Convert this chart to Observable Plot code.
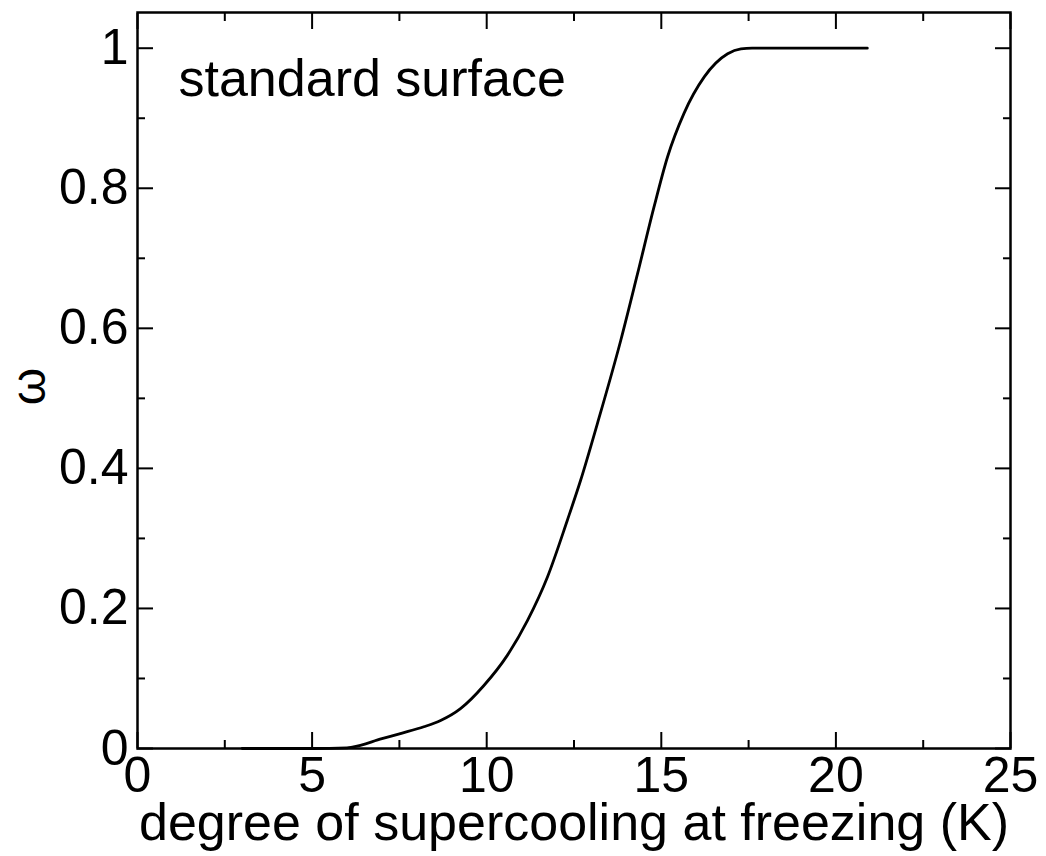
<!DOCTYPE html>
<html><head><meta charset="utf-8">
<script src="https://cdn.jsdelivr.net/npm/d3@7"></script>
<script src="https://cdn.jsdelivr.net/npm/@observablehq/plot@0.6"></script>
<style>body{margin:0;background:#fff;} svg{display:block}</style>
</head><body><div id="chart"></div>
<script>
// degree of supercooling at freezing (K)
const supercooling = [3, 5, 6, 6.15, 7, 7.58, 8.2, 8.68, 9.25, 9.92, 10.59, 11.17, 11.74, 12.31, 12.69, 13.17, 13.84, 14.32, 14.79, 15.18, 15.65, 16.23, 16.9, 17.28, 17.6, 18.5, 20.9];
// omega
const omega = [0, 0, 0.001, 0.002, 0.014, 0.022, 0.031, 0.04, 0.057, 0.09, 0.133, 0.183, 0.245, 0.326, 0.383, 0.464, 0.583, 0.678, 0.773, 0.845, 0.907, 0.959, 0.992, 0.999, 1, 1, 1];

const xMajor = [0, 5, 10, 15, 20, 25];
const xMinor = [2.5, 7.5, 12.5, 17.5, 22.5];
const yMajor = [0, 0.2, 0.4, 0.6, 0.8, 1];
const yMinor = [0.1, 0.3, 0.5, 0.7, 0.9];
const yTickLabels = ["0", "0.2", "0.4", "0.6", "0.8", "1"];
const xLabel = "degree of supercooling at freezing (K)";
const yLabel = "ω";
const annotation = "standard surface";

const data = supercooling.map((x, i) => ({x, y: omega[i]}));
const font = "'Liberation Sans', Arial, Helvetica, sans-serif";
const none = () => "";
const yFmt = (d) => yTickLabels[yMajor.indexOf(d)];

const chart = Plot.plot({
  width: 1046,
  height: 856,
  marginLeft: 137,
  marginRight: 36,
  marginTop: 12,
  marginBottom: 108,
  style: {fontFamily: font, background: "white", color: "black"},
  x: {domain: [0, 25], label: null},
  y: {domain: [0, 1.051], label: null},
  marks: [
    Plot.axisX(xMajor, {anchor: "bottom", tickSize: -16, tickPadding: 24, fontSize: 50, strokeWidth: 2, label: null}),
    Plot.axisX(xMinor, {anchor: "bottom", tickSize: -8, tickFormat: none, strokeWidth: 2, label: null}),
    Plot.axisX(xMajor, {anchor: "top", tickSize: -16, tickFormat: none, strokeWidth: 2, label: null}),
    Plot.axisX(xMinor, {anchor: "top", tickSize: -8, tickFormat: none, strokeWidth: 2, label: null}),
    Plot.axisY(yMajor, {anchor: "left", tickSize: -16, tickPadding: 25, fontSize: 50, strokeWidth: 2, tickFormat: yFmt, label: null}),
    Plot.axisY(yMinor, {anchor: "left", tickSize: -8, tickFormat: none, strokeWidth: 2, label: null}),
    Plot.axisY(yMajor, {anchor: "right", tickSize: -16, tickFormat: none, strokeWidth: 2, label: null}),
    Plot.axisY(yMinor, {anchor: "right", tickSize: -8, tickFormat: none, strokeWidth: 2, label: null}),
    Plot.frame({stroke: "black", strokeWidth: 2.5}),
    Plot.line(data, {x: "x", y: "y", stroke: "black", strokeWidth: 2.8, curve: "monotone-x"}),
    Plot.text([annotation], {frameAnchor: "top-left", dx: 41, dy: 47, lineAnchor: "top", textAnchor: "start", fontSize: 52, fill: "black"}),
    Plot.text([xLabel], {frameAnchor: "bottom", dy: 75, lineAnchor: "middle", textAnchor: "middle", fontSize: 52, fill: "black"}),
    Plot.text([yLabel], {frameAnchor: "left", dx: -108, dy: 6, rotate: -90, lineAnchor: "middle", textAnchor: "middle", fontSize: 48, fill: "black"})
  ]
});
document.getElementById("chart").appendChild(chart);
</script>
</body></html>
